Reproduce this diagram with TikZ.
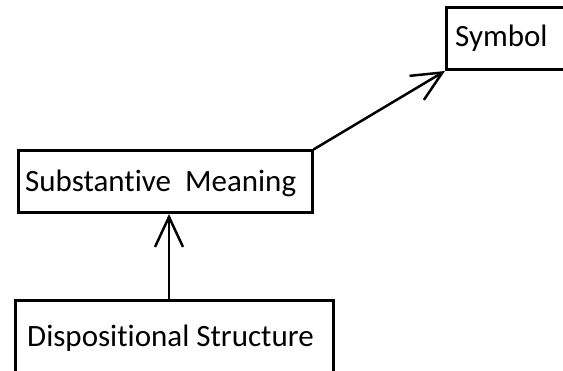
\documentclass[tikz,border=0pt]{standalone}
\usepackage{fontspec}
\setmainfont[Ligatures={NoCommon}]{Carlito}
\usetikzlibrary{arrows.meta}
\tikzset{
  boxnode/.style={draw=black, line width=2.5pt, rectangle, inner sep=0pt, anchor=south west},
  lbl/.style={anchor=base west, inner sep=0pt, font=\fontsize{31}{37}\selectfont, text=black},
  arr/.style={line width=2.5pt, -{Straight Barb[length=30pt,width=28pt,line width=2.5pt]}}
}
\begin{document}
\begin{tikzpicture}[x=1pt,y=1pt]
\clip (0,0) rectangle (563,371);
\fill[white] (0,0) rectangle (563,371);
% boxes
\node[boxnode, minimum width=160pt, minimum height=62pt] (sym) at (445,300) {};
\node[boxnode, minimum width=294pt, minimum height=62pt] (sm) at (17,157) {};
\node[boxnode, minimum width=318pt, minimum height=90pt] (ds) at (14,-21) {};
% labels
\node[lbl] (symt) at (455,324) {Symbol};
\node[lbl] (smt) at (25,179) {Substantive\hspace{0.226em}\ Meaning};
\node[lbl] (dst) at (27,24) {Dispositional Structure};
% connectors
\coordinate (vx) at (169,0);
\draw[arr] (ds.north -| vx) -- (sm.south -| vx);
\draw[arr] (sm.north east) -- (sym.south west);
\end{tikzpicture}
\end{document}
